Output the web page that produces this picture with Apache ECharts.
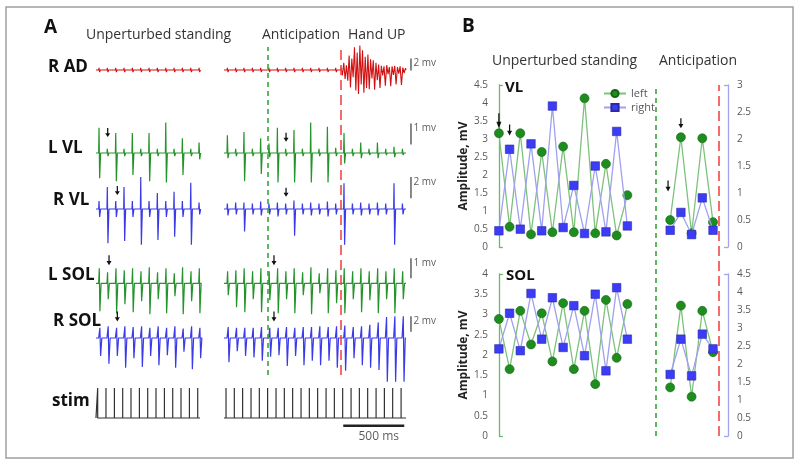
<!DOCTYPE html>
<html><head><meta charset="utf-8">
<script src="https://cdn.jsdelivr.net/npm/echarts@6/dist/echarts.min.js"></script>
<style>html,body{margin:0;padding:0;background:#fff}#c{width:800px;height:467px}</style>
</head><body><div id="c"></div>
<script>
// ================= Panel A : EMG traces (time in ms, amplitude in mV) =================
const segStanding = [49, 902];
const segAnticip = [1098, 2590];
const stimStanding = [63,131,200,268,336,405,473,541,610,678,746,815,883];
const stimAnticip = [1115,1183,1251,1320,1388,1456,1525,1593,1661,1730,1798,1866,1935,2003,2071,2140,2208,2276,2345,2413,2481,2550];
const anticipationOnsetMs = 1457;
const handUpMs = 2055;

// R AD
const rAdUpStanding   = [0.35,0.35,0.35,0.35,0.35,0.35,0.35,0.35,0.35,0.35,0.35,0.35,0.35];
const rAdDownStanding = [-0.35,-0.35,-0.35,-0.35,-0.35,-0.35,-0.35,-0.35,-0.35,-0.35,-0.35,-0.35,-0.35];
const rAdUpAnticip    = [0.35,0.35,0.35,0.35,0.35,0.35,0.35,0.35,0.35,0.35,0.35,0.35,0.35,0.35];
const rAdDownAnticip  = [-0.35,-0.35,-0.35,-0.35,-0.35,-0.35,-0.35,-0.35,-0.35,-0.35,-0.35,-0.35,-0.35,-0.35];
const rAdBurstStartMs = 2058;
const rAdBurstStepMs = 11;
const rAdBurst = [0.4,-0.9,1.2,-1.5,0.8, -1.8,2.4,-2.9,1.9,-1.2,
  3.8,-3.4,2.9,-4.0,4.1,-2.4,3.3,-3.8,2.2,-3.0,
  2.6,-3.2,1.8,-1.4,1.6,-3.3,1.2,-1.7,0.9,-3.0,
  0.7,-0.9,0.6,-2.6,0.8,-0.7,0.5,-2.7,0.6,-0.8,0.7,-2.4,0.5,-0.6,0.6,-2.5,0.4,-0.5,0.3];

// L VL
const lVlUpStanding   = [1.2,0.2,0.95,0.2,0.95,0.2,0.95,0.2,1.45,0.2,0.7,0.2,0.5];
const lVlDownStanding = [-1.2,-0.15,-1.35,-0.15,-1.05,-0.15,-1.35,-0.15,-1.4,-0.15,-1.05,-0.15,-0.3];
const lVlUpAnticip    = [0.85,0.2,1.0,0.2,0.7,0.45,1.2,0.2,1.1,0.2,1.45,0.2,1.25,0.25,0.95,0.2,0.5,0.2,0.5,0.2,0.3,0.2];
const lVlDownAnticip  = [-0.25,-0.15,-1.35,-0.15,-1.0,-0.2,-1.4,-0.15,-1.4,-0.15,-1.4,-0.15,-1.4,-0.15,-0.5,-0.15,-0.25,-0.1,-0.25,-0.1,-0.2,-0.1];

// R VL
const rVlUpStanding   = [0.75,2.05,0.75,2.05,0.75,3.0,0.75,1.5,0.75,1.6,0.75,2.45,0.6];
const rVlDownStanding = [-0.75,-3.2,-0.75,-3.0,-0.75,-3.35,-0.75,-2.9,-0.75,-2.6,-0.75,-3.35,-0.5];
const rVlUpAnticip    = [0.5,0.6,0.6,0.5,0.7,0.5,0.6,0.5,0.8,0.5,0.6,0.5,0.7,0.5,2.4,0.5,0.6,0.5,0.6,0.5,2.4,0.5];
const rVlDownAnticip  = [-0.6,-0.5,-2.1,-0.5,-0.6,-0.5,-0.7,-0.5,-2.5,-0.5,-0.6,-0.5,-0.7,-0.5,-3.35,-0.5,-0.6,-0.5,-0.6,-0.5,-3.35,-0.5];

// L SOL
const lSolUpStanding   = [0.75,0.55,0.75,0.65,0.75,0.6,0.8,0.55,0.75,0.5,0.8,0.6,0.75];
const lSolDownStanding = [-1.4,-0.8,-1.5,-1.05,-1.45,-0.9,-1.55,-0.8,-1.5,-0.65,-1.55,-0.9,-1.5];
const lSolUpAnticip    = [0.6,0.65,0.75,0.6,0.75,0.6,0.75,0.6,0.75,0.55,0.8,0.5,0.75,0.65,0.75,0.6,0.75,0.6,0.75,0.6,0.75,0.6];
const lSolDownAnticip  = [-0.6,-1.2,-1.45,-0.8,-1.45,-0.85,-1.5,-0.8,-1.5,-0.6,-1.55,-0.5,-1.5,-1.0,-1.5,-0.8,-1.45,-0.85,-1.5,-0.8,-1.5,-0.8];

// R SOL
const rSolUpStanding   = [1.3,1.5,1.3,1.5,1.4,1.5,1.3,1.5,1.3,1.5,1.2,1.5,1.3];
const rSolDownStanding = [-2.3,-3.3,-2.3,-3.8,-2.6,-3.7,-2.3,-3.5,-2.2,-3.8,-1.75,-4.0,-2.6];
const rSolUpAnticip    = [1.4,1.3,1.3,1.3,1.4,1.3,1.3,1.4,1.3,1.4,1.4,1.5,1.4,1.5,1.6,1.4,1.5,1.7,2.0,2.7,2.8,2.8];
const rSolDownAnticip  = [-3.1,-1.7,-2.3,-2.5,-2.9,-2.4,-2.2,-3.6,-2.3,-3.5,-2.9,-3.5,-2.9,-3.8,-4.2,-2.6,-3.5,-3.8,-4.1,-5.6,-5.6,-5.6];

// scale bars (mV) and time bar (ms)
const scaleBarMs = 2631;
const timeBar = [2076, 2576];
const timeBarLabel = '500 ms';

// ================= Panel B : amplitudes =================
const bIdxStanding = [0,1,2,3,4,5,6,7,8,9,10,11,12];
const bIdxAnticip  = [16,17,18,19,20];
const bAnticipationOnset = 14.67;
const bHandUp = 20.49;
const vlLeftStanding  = [3.16,0.56,3.16,0.35,2.64,0.41,2.79,0.41,4.13,0.38,2.31,0.32,1.44];
const vlLeftAnticip   = [0.75,3.05,0.38,3.02,0.69];
const vlRightStanding = [0.30,1.81,0.33,1.91,0.30,2.61,0.36,1.14,0.25,1.50,0.28,2.14,0.39];
const vlRightAnticip  = [0.31,0.64,0.23,0.91,0.31];
const solLeftStanding  = [2.89,1.65,3.09,2.26,3.03,1.84,3.28,1.65,3.09,1.28,3.36,1.93,3.26];
const solLeftAnticip   = [1.20,3.22,0.97,3.09,2.07];
const solRightStanding = [2.42,3.41,2.37,3.96,2.69,3.84,2.46,3.62,2.23,3.94,1.81,4.12,2.69];
const solRightAnticip  = [1.71,2.69,1.67,2.83,2.42];

// ================= build =================
const C_RED = '#d01212', C_GREEN = '#24932a', C_BLUE = '#3a3ae8', C_STIM = '#333';
const ARROW = 'path://M3,0 L5,0 L5,8 L8,8 L4,14 L0,8 L3,8 Z';
const FONT = '"Open Sans", sans-serif';

function spikes(times, up, down, lat, sh) {
  const pts = [];
  for (let i = 0; i < up.length; i++) {
    const s = times[i] + lat;
    pts.push([s, 0], [s + sh[0], up[i]], [s + sh[1], down[i]], [s + sh[2], 0]);
  }
  return pts;
}
const GAP = [(segStanding[1] + segAnticip[0]) / 2, '-'];
function trace(upS, downS, upA, downA, sh) {
  return [[segStanding[0], 0], ...spikes(stimStanding, upS, downS, 8, sh), [segStanding[1], 0], GAP,
          [segAnticip[0], 0], ...spikes(stimAnticip, upA, downA, 8, sh), [segAnticip[1], 0]];
}
const rAdData = (() => {
  const burst = rAdBurst.map((v, i) => [rAdBurstStartMs + i * rAdBurstStepMs, v]);
  return [[segStanding[0], 0], ...spikes(stimStanding, rAdUpStanding, rAdDownStanding, 8, [3, 8, 14]), [segStanding[1], 0], GAP,
          [segAnticip[0], 0], ...spikes(stimAnticip, rAdUpAnticip, rAdDownAnticip, 8, [3, 8, 14]), [handUpMs, 0], ...burst, [segAnticip[1], 0]];
})();
const stimData = (() => {
  const p = [[segStanding[0], 0]];
  stimStanding.forEach(t => p.push([t, 0], [t, 1], [t, 0]));
  p.push([segStanding[1], 0], GAP, [segAnticip[0], 0]);
  stimAnticip.forEach(t => p.push([t, 0], [t, 1], [t, 0]));
  p.push([segAnticip[1], 0]);
  return p;
})();

// trace grids: baseline px, px per unit, unit range
const TR = [
  {base: 70,    ppu: 6,    min: -5, max: 5},
  {base: 153,   ppu: 21,   min: -2, max: 2},
  {base: 209,   ppu: 10.7, min: -4, max: 4},
  {base: 283.3, ppu: 20,   min: -2, max: 2},
  {base: 338,   ppu: 7.8,  min: -6, max: 6},
  {base: 418,   ppu: 30,   min: -1, max: 1.2}
];
const grids = [], xAxes = [], yAxes = [], series = [];
const A_LEFT = 90, A_W = 330, A_MAX = 2705;
TR.forEach((g, i) => {
  grids.push({left: A_LEFT, width: A_W, top: g.base - g.max * g.ppu, height: (g.max - g.min) * g.ppu});
  xAxes.push({gridIndex: i, type: 'value', min: 0, max: A_MAX, show: false});
  yAxes.push({gridIndex: i, type: 'value', min: g.min, max: g.max, show: false});
});
// overlay grid for A dashed event lines (index 6)
grids.push({left: A_LEFT, width: A_W, top: 47, height: 328});
xAxes.push({gridIndex: 6, type: 'value', min: 0, max: A_MAX, show: false});
yAxes.push({gridIndex: 6, type: 'value', min: 0, max: 1, show: false});
// B grids (7 VL, 8 SOL, 9 overlay)
const B_LEFT = 493, B_RIGHT = 72, B_MIN = -0.55, B_MAX = 21.4;
grids.push({left: B_LEFT, right: B_RIGHT, top: 85, height: 162});
grids.push({left: B_LEFT, right: B_RIGHT, top: 274, height: 162});
grids.push({left: B_LEFT, right: B_RIGHT, top: 85, height: 351});
[7, 8, 9].forEach(gi => xAxes.push({gridIndex: gi, type: 'value', min: B_MIN, max: B_MAX, show: false}));

const LEFT_AX = '#6cb86c', RIGHT_AX = '#a3a3ef';
function bAxis(gi, max, pos, color, withName) {
  const ax = {
    gridIndex: gi, type: 'value', min: 0, max: max, interval: 0.5, position: pos,
    axisLine: {show: true, lineStyle: {color: color, width: 1.3}},
    axisTick: {show: true, inside: true, length: 4, customValues: [0, max], lineStyle: {color: color, width: 1.3}},
    axisLabel: {color: '#595959', fontSize: 10, margin: pos === 'left' ? 5 : 9, fontFamily: FONT},
    splitLine: {show: false}
  };
  if (withName) Object.assign(ax, {name: 'Amplitude, mV', nameLocation: 'middle', nameRotate: 90, nameGap: 20,
    nameTextStyle: {fontWeight: 'bold', fontSize: 12, color: '#222', fontFamily: FONT}});
  return ax;
}
yAxes.push(bAxis(7, 4.5, 'left', LEFT_AX, true));   // 7
yAxes.push(bAxis(7, 3, 'right', RIGHT_AX, false));  // 8
yAxes.push(bAxis(8, 4, 'left', LEFT_AX, true));     // 9
yAxes.push(bAxis(8, 4.5, 'right', RIGHT_AX, false));// 10
yAxes.push({gridIndex: 9, type: 'value', min: 0, max: 1, show: false}); // 11

function lineS(i, data, color, w, extra) {
  return Object.assign({type: 'line', xAxisIndex: i, yAxisIndex: i, data: data, symbol: 'none', silent: true,
    lineStyle: {color: color, width: w}, z: 2}, extra || {});
}
function arrows(list) {
  return {symbol: ARROW, silent: true, itemStyle: {color: '#111'}, label: {show: false},
    data: list.map(a => ({coord: [a[0], a[1]], symbolSize: [5, a[2]], symbolOffset: [0, -a[2] / 2]}))};
}
series.push(lineS(0, rAdData, C_RED, 1.1));
series.push(lineS(1, trace(lVlUpStanding, lVlDownStanding, lVlUpAnticip, lVlDownAnticip, [3, 8, 16]), C_GREEN, 1.2,
  {markPoint: arrows([[145, 0.76, 9], [1607, 0.54, 9]])}));
series.push(lineS(2, trace(rVlUpStanding, rVlDownStanding, rVlUpAnticip, rVlDownAnticip, [3, 8, 16]), C_BLUE, 1.2,
  {markPoint: arrows([[224, 1.3, 9], [1607, 1.15, 9]])}));
series.push(lineS(3, trace(lSolUpStanding, lSolDownStanding, lSolUpAnticip, lSolDownAnticip, [5, 10, 20]), C_GREEN, 1.2,
  {markPoint: arrows([[156, 0.9, 10], [1508, 0.9, 10]])}));
series.push(lineS(4, trace(rSolUpStanding, rSolDownStanding, rSolUpAnticip, rSolDownAnticip, [10, 16, 26]), C_BLUE, 1.2,
  {markPoint: arrows([[224, 2.1, 10], [1508, 2.1, 10]])}));
series.push(lineS(5, stimData, C_STIM, 1.2));

// scale bars
const bars = [[0, -0.1, 1.9, '2 mv'], [1, 0.4, 1.4, '1 mv'], [2, 1.0, 3.0, '2 mv'], [3, 0.25, 1.25, '1 mv'], [4, 0.8, 2.8, '2 mv']];
bars.forEach(b => {
  series.push(lineS(b[0], [[scaleBarMs, b[1]], [scaleBarMs, b[2]]], '#555', 1.4));
  series.push({type: 'scatter', xAxisIndex: b[0], yAxisIndex: b[0], silent: true, symbolSize: 1,
    itemStyle: {color: 'rgba(0,0,0,0)'},
    label: {show: true, position: 'right', distance: 2, offset: [0, 5], formatter: b[3], fontSize: 10, color: '#333', fontFamily: FONT},
    data: [[scaleBarMs, b[2]]]});
});
series.push(lineS(5, [[timeBar[0], -0.26], [timeBar[1], -0.26]], '#222', 2.5));
series.push({type: 'scatter', xAxisIndex: 5, yAxisIndex: 5, silent: true, symbolSize: 1, itemStyle: {color: 'rgba(0,0,0,0)'},
  label: {show: true, position: 'bottom', distance: 4, offset: [5, 0], formatter: timeBarLabel, fontSize: 12, color: '#333', fontFamily: FONT},
  data: [[(timeBar[0] + timeBar[1]) / 2, -0.26]]});

// event lines
function eventLines(xi, yi, a, b) {
  return {type: 'line', xAxisIndex: xi, yAxisIndex: yi, data: [], silent: true, z: 5,
    markLine: {symbol: ['none', 'none'], silent: true, label: {show: false}, animation: false,
      data: [{xAxis: a, lineStyle: {color: '#3aa53a', type: [5, 4], width: 1.6}},
             {xAxis: b, lineStyle: {color: '#f04848', type: [10, 5], width: 1.6}}]}};
}
series.push(eventLines(6, 6, anticipationOnsetMs, handUpMs));

// Panel B series
function bData(ys, ya) {
  return [...bIdxStanding.map((x, i) => [x, ys[i]]), [14, '-'], ...bIdxAnticip.map((x, i) => [x, ya[i]])];
}
const greenStyle = {symbol: 'circle', symbolSize: 9, itemStyle: {color: '#1f8c1f', borderColor: '#146614', borderWidth: 0.6},
  lineStyle: {color: '#7cc27c', width: 1.3}};
const blueStyle = {symbol: 'rect', symbolSize: 8.5, itemStyle: {color: '#3c3cf5', borderColor: '#2a2aaa', borderWidth: 0.6},
  lineStyle: {color: '#a0a0f0', width: 1.3}};
series.push(Object.assign({type: 'line', name: 'left', xAxisIndex: 7, yAxisIndex: 7, z: 3, silent: true,
  data: bData(vlLeftStanding, vlLeftAnticip),
  markPoint: arrows([[0, 3.3, 15], [1, 3.1, 11], [17, 3.3, 10], [15.8, 1.54, 11]])}, greenStyle));
series.push(Object.assign({type: 'line', name: 'right', xAxisIndex: 7, yAxisIndex: 8, z: 4, silent: true,
  data: bData(vlRightStanding, vlRightAnticip)}, blueStyle));
series.push(Object.assign({type: 'line', name: 'left', xAxisIndex: 8, yAxisIndex: 9, z: 3, silent: true,
  data: bData(solLeftStanding, solLeftAnticip)}, greenStyle));
series.push(Object.assign({type: 'line', name: 'right', xAxisIndex: 8, yAxisIndex: 10, z: 4, silent: true,
  data: bData(solRightStanding, solRightAnticip)}, blueStyle));
series.push(eventLines(9, 11, bAnticipationOnset, bHandUp));

function txt(t, x, y, size, bold, color) {
  return {type: 'text', x: x, y: y, silent: true, z: 10,
    style: {text: t, font: (bold ? 'bold ' : '') + size + 'px ' + FONT, fill: color || '#333', textAlign: 'left', textVerticalAlign: 'middle'}};
}
const graphics = [
  {type: 'rect', shape: {x: 6, y: 7, width: 787, height: 451}, style: {fill: 'none', stroke: '#a0a0a0', lineWidth: 1.5}, silent: true, z: 0},
  txt('A', 44, 28, 19, true, '#111'), txt('B', 462, 27, 19, true, '#111'),
  txt('Unperturbed standing', 86, 35, 14, false), txt('Anticipation', 262, 35, 14, false), txt('Hand UP', 348, 35, 14, false),
  txt('Unperturbed standing', 492, 61, 14, false), txt('Anticipation', 659, 61, 14, false),
  txt('R AD', 48, 67, 17, true, '#111'), txt('L VL', 48, 148, 17, true, '#111'), txt('R VL', 53, 200, 17, true, '#111'),
  txt('L SOL', 48, 275, 17, true, '#111'), txt('R SOL', 53, 321, 17, true, '#111'), txt('stim', 52, 401, 17, true, '#111'),
  txt('VL', 505, 88, 15, true, '#111'), txt('SOL', 506, 276, 15, true, '#111')
];

const chart = echarts.init(document.getElementById('c'));
chart.setOption({
  animation: false,
  backgroundColor: '#fff',
  textStyle: {fontFamily: FONT},
  grid: grids, xAxis: xAxes, yAxis: yAxes,
  legend: {data: ['left', 'right'], orient: 'vertical', left: 598, top: 83, itemWidth: 22, itemHeight: 9, itemGap: 3,
    selectedMode: false, textStyle: {fontSize: 11, color: '#595959', fontFamily: FONT}},
  graphic: {elements: graphics},
  series: series
});
</script></body></html>
